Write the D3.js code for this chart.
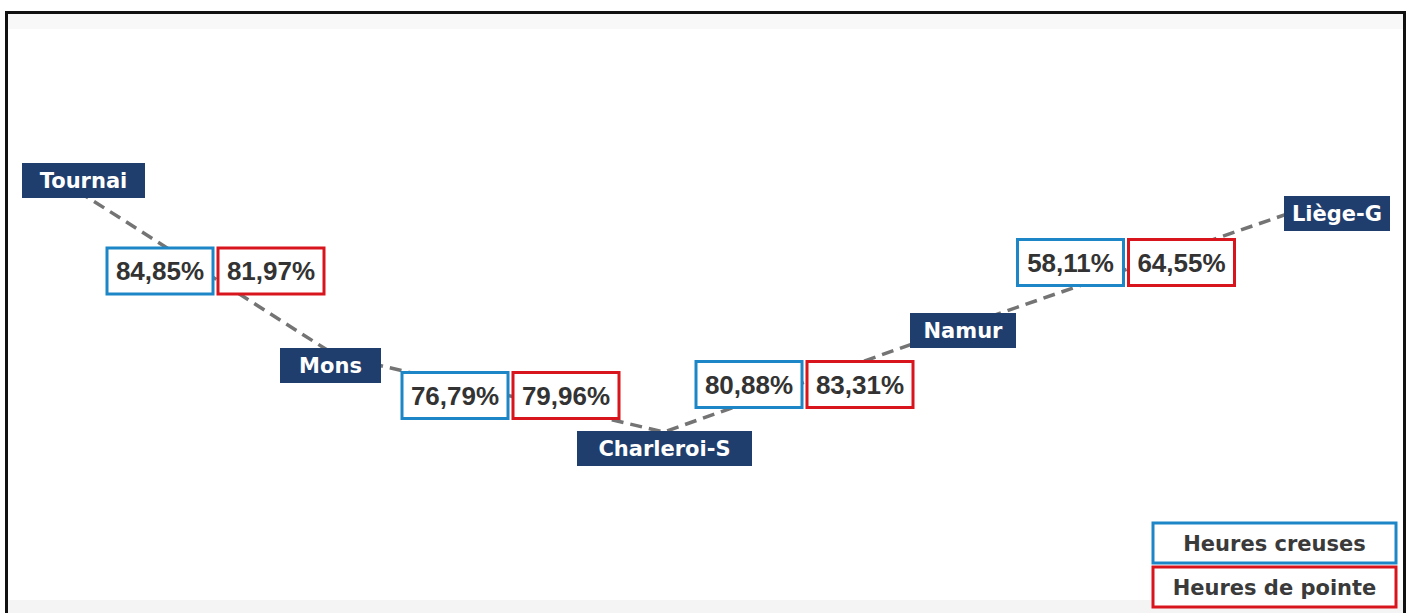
<!DOCTYPE html>
<html>
<head>
<meta charset="utf-8">
<script src="https://cdn.jsdelivr.net/npm/d3@7"></script>
<style>
  body { margin: 0; background: #fff; }
  svg { display: block; }
</style>
</head>
<body>
<svg id="chart" width="1410" height="613"></svg>
<script>
// stations along the line, west to east
const stations = ["Tournai", "Mons", "Charleroi-S", "Namur", "Liège-G"];
// occupation rate between two stations (%)
const offPeak = [84.85, 76.79, 80.88, 58.11];   // heures creuses
const peak = [81.97, 79.96, 83.31, 64.55];      // heures de pointe
const legendLabels = ["Heures creuses", "Heures de pointe"];

// schematic layout, in design units (1410 x 613)
const stationPos = [[83.5, 180.5], [330.5, 365.5], [664.5, 448.5], [963, 330.5], [1337, 213.5]];
const stationBoxW = [123, 101, 175, 106, 106];
const routePos = [[62, 181], [335, 355], [664, 432], [963, 326], [1290, 213]];
const pairPos = [[215.5, 271], [510.5, 395.5], [804.5, 384.5], [1126, 262.5]];

const colors = {
  offPeak: "#1c86c6",
  peak: "#d8141c",
  station: "#1f3e6e",
  dash: "#747474",
  text: "#333333"
};

const svg = d3.select("#chart");
const width = +svg.attr("width");
const height = +svg.attr("height");

const x = d3.scaleLinear().domain([0, 1410]).range([0, width]);
const y = d3.scaleLinear().domain([0, 613]).range([0, height]);

const fr = d3.formatLocale({ decimal: ",", thousands: ".", grouping: [3], currency: ["", " €"] });
const pct = v => fr.format(".2f")(v) + "%";

// background bands + frame
svg.append("rect")
  .attr("x", 8).attr("y", 14).attr("width", width - 14).attr("height", 15)
  .attr("fill", "#f8f8f8");
svg.append("rect")
  .attr("x", 8).attr("y", height - 13).attr("width", width - 14).attr("height", 13)
  .attr("fill", "#f4f4f4");
svg.append("path")
  .attr("d", `M6.5,${height} V12.5 H${width - 5.5} V${height}`)
  .attr("fill", "none")
  .attr("stroke", "#111")
  .attr("stroke-width", 3);

// dashed route line
const line = d3.line()
  .x(d => x(d[0]))
  .y(d => y(d[1]));

svg.append("path")
  .datum(routePos)
  .attr("fill", "none")
  .attr("stroke", colors.dash)
  .attr("stroke-width", 3.5)
  .attr("stroke-dasharray", "12,7")
  .attr("d", line);

// station labels
const gStations = svg.append("g").attr("id", "stations");
const st = gStations.selectAll("g")
  .data(stations)
  .join("g")
  .attr("transform", (d, i) => `translate(${x(stationPos[i][0])},${y(stationPos[i][1])})`);

st.append("rect")
  .attr("x", (d, i) => -stationBoxW[i] / 2)
  .attr("y", -17.5)
  .attr("width", (d, i) => stationBoxW[i])
  .attr("height", 35)
  .attr("fill", colors.station);

st.append("text")
  .attr("text-anchor", "middle")
  .attr("dy", "0.36em")
  .attr("fill", "#fff")
  .style("font", "bold 21px 'DejaVu Sans', sans-serif")
  .text(d => d);

// value pairs between stations
const boxW = 106, boxH = 46, gap = 5;
const gPairs = svg.append("g").attr("id", "values");
const series = [
  { key: "offPeak", values: offPeak, dx: -gap / 2 - boxW },
  { key: "peak", values: peak, dx: gap / 2 }
];

series.forEach(s => {
  const g = gPairs.append("g").attr("class", s.key)
    .selectAll("g")
    .data(s.values)
    .join("g")
    .attr("transform", (d, i) => `translate(${x(pairPos[i][0]) + s.dx},${y(pairPos[i][1]) - boxH / 2})`);

  g.append("rect")
    .attr("x", 0).attr("y", 0)
    .attr("width", boxW).attr("height", boxH)
    .attr("fill", "#fff")
    .attr("stroke", colors[s.key])
    .attr("stroke-width", 3);

  g.append("text")
    .attr("x", boxW / 2)
    .attr("y", boxH / 2)
    .attr("dy", "0.36em")
    .attr("text-anchor", "middle")
    .attr("fill", colors.text)
    .style("font", "bold 26px 'Liberation Sans', Arial, sans-serif")
    .text(d => pct(d));
});

// legend
const legend = svg.append("g").attr("id", "legend")
  .attr("transform", "translate(1153,523)");
const li = legend.selectAll("g")
  .data(legendLabels)
  .join("g")
  .attr("transform", (d, i) => `translate(0,${i * 44})`);

li.append("rect")
  .attr("width", 243).attr("height", 40)
  .attr("fill", "#fff")
  .attr("stroke", (d, i) => i ? colors.peak : colors.offPeak)
  .attr("stroke-width", 3);

li.append("text")
  .attr("x", 121.5).attr("y", 20).attr("dy", "0.36em")
  .attr("text-anchor", "middle")
  .attr("fill", "#3a3a3a")
  .style("font", "bold 21px 'DejaVu Sans', sans-serif")
  .text(d => d);
</script>
</body>
</html>
